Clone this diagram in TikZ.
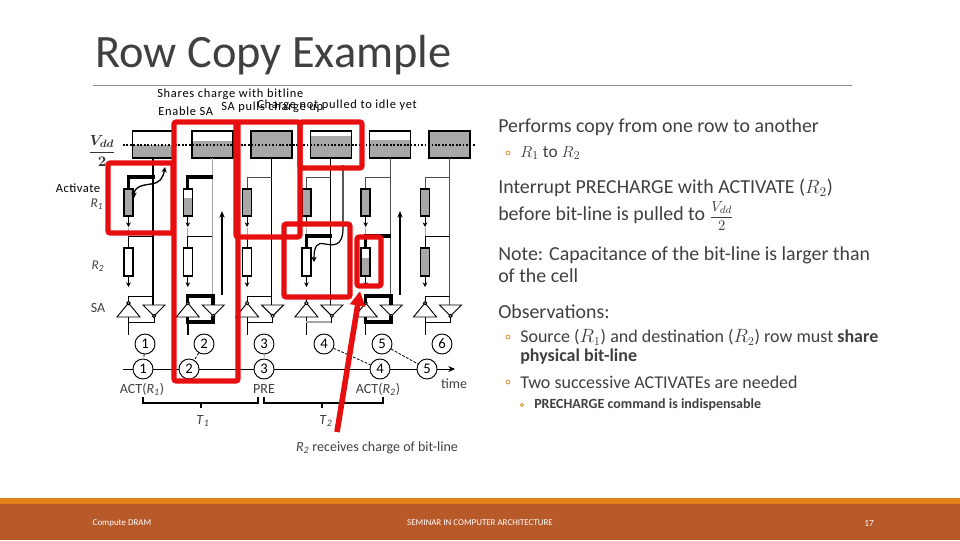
\documentclass[tikz,border=0pt]{standalone}
\usepackage{amsmath, amssymb}
\usepackage{fontspec}
\usepackage{xcolor}
\usepackage{tikz}
\usetikzlibrary{positioning, arrows.meta, calc}
\setmainfont{Carlito}
\definecolor{cMuted}  {HTML}{A6A6A6}
\definecolor{cFill}   {HTML}{A8A8A8}
\definecolor{cRed}    {HTML}{E60E0E}
\definecolor{cBody}   {HTML}{404040}
\definecolor{cOrange} {HTML}{E2801A}
\definecolor{cBrown}  {HTML}{B8592A}
\definecolor{cRule}   {HTML}{8C8C8C}
\newcommand{\figR}[1]{\textit{R}\textsubscript{\textit{#1}}}
\tikzset{
  cellbox/.style={draw=black, line width=1.1pt},
  wire/.style={draw=black, line width=0.7pt},
  boldwire/.style={draw=black, line width=2.4pt},
  redbox/.style={draw=cRed, line width=3.8pt, rounded corners=1.5pt},
  stepcircle/.style={circle, draw=black, fill=white, line width=0.7pt, minimum size=15pt, inner sep=0pt, font=\fontsize{11}{12}\selectfont},
  dashwire/.style={draw=black, line width=0.6pt, dashed, dash pattern=on 2pt off 1.2pt},
  toplabel/.style={anchor=west, inner sep=0pt, font=\fontsize{9.3}{10}\selectfont\addfontfeatures{LetterSpace=6}},
  figlabel/.style={inner sep=0pt, text=cBody, font=\fontsize{10.5}{12}\selectfont},
  bodyl/.style={anchor=west, inner sep=0pt, text=cBody, font=\fontsize{14.9}{16}\selectfont},
  bodym/.style={anchor=west, inner sep=0pt, text=cBody, font=\fontsize{13.5}{15}\selectfont},
  bulletmark/.style={circle, draw=cOrange, line width=0.5pt, inner sep=0pt, minimum size=3pt},
  footl/.style={inner sep=0pt, text=white, font=\fontsize{6.7}{7}\selectfont},
}
\begin{document}
\begin{tikzpicture}[x=0.75pt, y=-0.75pt]
  \useasboundingbox (0, 0) rectangle (960, 540);
  \fill[white] (0, 0) rectangle (960, 540);

  % title and footer
  \node[anchor=west, inner sep=0pt, text=cBody, font=\fontsize{34.8}{38}\selectfont] (title) at (95, 55) {Row Copy Example};
  \draw[cRule, line width=0.6pt] (93, 85) -- (852, 85);
  \fill[cOrange] (0, 498) rectangle (960, 504);
  \fill[cBrown] (0, 504) rectangle (960, 540);
  \node[footl] (foota) at (122, 523) {Compute DRAM};
  \node[footl] (footb) at (480, 523) {SEMINAR IN COMPUTER ARCHITECTURE};
  \node[footl, font=\fontsize{7}{8}\selectfont] (footc) at (869, 523) {17};

  % one column of the array per entry: number, fill level, R1 level, R2 level, bit-line colour
  \foreach \n/\lvl/\rone/\rtwo/\blc in {1/145/189/276/black, 2/141/198/276/cMuted, 3/131/189/276/black,
                                        4/136/189/276/black, 5/140/189/258/black!70, 6/131/189/248/black!70} {
    \pgfmathsetmacro{\cx}{153+59.3*(\n-1)}
    \pgfmathsetmacro{\cell}{\cx-24.5}
    % sense amplifier box
    \fill[cFill] (\cx-20.5, \lvl) rectangle (\cx+20.5, 158);
    \draw[cellbox] (\cx-20.5, 131) rectangle (\cx+20.5, 158);
    \draw[\blc, line width=0.8pt] (\cx, 158) -- (\cx, 305);
    % R1
    \draw[wire, black!70] (\cell, 177) -- (\cx, 177);
    \draw[wire, black!70] (\cell, 177) -- (\cell, 189);
    \fill[cFill] (\cell-4.5, \rone) rectangle (\cell+4.5, 216);
    \draw[cellbox] (\cell-4.5, 189) rectangle (\cell+4.5, 216);
    \draw[wire, -{Stealth[length=3.5pt, width=3.5pt]}] (\cell, 216) -- (\cell, 227);
    % R2
    \draw[wire, cMuted] (\cell, 228) -- (\cell, 236);
    \draw[wire] (\cell, 236) -- (\cx, 236);
    \draw[wire] (\cell, 236) -- (\cell, 248);
    \fill[cFill] (\cell-4.5, \rtwo) rectangle (\cell+4.5, 276);
    \draw[cellbox] (\cell-4.5, 248) rectangle (\cell+4.5, 276);
    \draw[wire, -{Stealth[length=3.5pt, width=3.5pt]}] (\cell, 276) -- (\cell, 287);
    % SA
    \draw[wire] (\cell, 303) -- (\cell, 296) -- (\cx, 296);
    \draw[wire, line join=miter] (\cell, 303) -- (\cell+11.5, 317) -- (\cell-11.5, 317) -- cycle;
    \draw[wire, line join=miter] (\cx+1, 316) -- (\cx+12, 305) -- (\cx-10, 305) -- cycle;
    \draw[wire] (\cx+1, 316) -- (\cx+1, 322) -- (\cell, 322);
    \draw[wire] (\cell, 317) -- (\cell, 335);
    \draw[wire, fill=white] (\cell, 303) circle (1.6);
    \draw[wire, fill=white] (\cx+1, 316) circle (1.6);
  }

  % bold word lines and sense amps
  \draw[boldwire] (128.5, 189) -- (128.5, 177) -- (155, 177);
  \draw[boldwire] (187.8, 189) -- (187.8, 177) -- (213, 177);
  \draw[boldwire] (306.4, 248) -- (306.4, 236) -- (332, 236);
  \draw[boldwire] (365.7, 248) -- (365.7, 236) -- (391, 236);
  \draw[boldwire] (187.8, 303) -- (187.8, 296) -- (213, 296) -- (213, 305);
  \draw[boldwire] (187.8, 317) -- (187.8, 322) -- (213, 322) -- (213, 316);
  \draw[boldwire, line width=1.4pt] (187.8, 322) -- (187.8, 335);
  \draw[boldwire] (365.7, 303) -- (365.7, 296) -- (391, 296) -- (391, 305);
  \draw[boldwire] (365.7, 317) -- (365.7, 322) -- (391, 322) -- (391, 316);
  \draw[wire, cMuted, line width=1pt] (306.4, 322) -- (331, 322);

  % charge flow
  \draw[line width=1pt, {Stealth[length=4pt, width=4pt]}-{Stealth[length=4pt, width=4pt]}] (134, 198) .. controls (134, 186) and (144, 185) .. (151, 184) .. controls (160, 183) and (163, 178) .. (165, 167);
  \draw[line width=0.9pt, -{Stealth[length=4pt, width=4pt]}] (343, 165) -- (343, 228) .. controls (343, 248) and (332, 245) .. (325, 244) .. controls (317, 242) and (314, 246) .. (314, 262);
  \draw[line width=1pt, -{Stealth[length=5pt, width=4pt]}] (222, 295) -- (222, 211);
  \draw[line width=1pt, -{Stealth[length=5pt, width=4pt]}] (400, 295) -- (400, 211);

  % idle level
  \draw[line width=0.9pt, dash pattern=on 1.3pt off 1.3pt] (123, 145) -- (476, 145);

  % row labels
  \node[inner sep=0pt, text=black!80, font=\fontsize{11}{12}\selectfont] (vdd) at (102, 151) {$\boldsymbol{\dfrac{V_{dd}}{2}}$};
  \node[figlabel, font=\fontsize{10}{11}\selectfont] (rone) at (97, 204) {\figR{1}};
  \node[figlabel, font=\fontsize{10}{11}\selectfont] (rtwo) at (98, 266) {\figR{2}};
  \node[figlabel] (sa) at (98, 308) {SA};
  \node[inner sep=0pt, font=\fontsize{9.4}{10}\selectfont\addfontfeatures{LetterSpace=4}] (activate) at (78, 188) {Activate};

  % time line
  \coordinate (tstart) at (123, 369);
  \coordinate (tend) at (455, 369);
  \draw[wire, -{Stealth[length=5pt, width=4.5pt]}] (tstart) -- (tend);
  \foreach \n/\ux in {1/145, 2/204, 3/264, 4/324, 5/382, 6/442} {
    \node[stepcircle] (up\n) at (\ux, 344) {\n};
  }
  \foreach \n/\lx in {1/143, 2/189, 3/264, 4/380, 5/427} {
    \node[stepcircle] (lo\n) at (\lx, 369) {\n};
  }
  \draw[dashwire] (up1) -- (lo1);
  \draw[dashwire] (up2) -- (lo2);
  \draw[dashwire, cMuted] (up3) -- (lo3);
  \draw[dashwire] (up4) -- (lo4);
  \draw[dashwire] (up5) -- (lo5);
  \node[figlabel] (timelab) at (454, 384) {time};
  \node[figlabel] (actone) at (142, 389) {ACT(\figR{1})};
  \node[figlabel] (pre) at (264, 389) {PRE};
  \node[figlabel] (acttwo) at (378, 389) {ACT(\figR{2})};

  % braces
  \draw[wire, line width=0.9pt] (143, 397) -- (143, 403) -- (258, 403) -- (258, 397);
  \draw[wire, line width=0.9pt] (264, 397) -- (264, 403) -- (383, 403) -- (383, 397);
  \draw[wire, line width=0.9pt] (201, 403) -- (201, 408);
  \draw[wire, line width=0.9pt] (322, 403) -- (322, 408);
  \node[figlabel] (tone) at (203, 421) {\textit{T}\textsubscript{\textit{1}}};
  \node[figlabel] (ttwo) at (326, 421) {\textit{T}\textsubscript{\textit{2}}};
  \node[figlabel] (receives) at (377, 448) {\figR{2} receives charge of bit-line};

  % red highlights
  \draw[redbox] (108, 163) rectangle (173, 233);
  \draw[redbox] (174, 122) rectangle (238, 381);
  \draw[redbox] (236, 122) rectangle (300, 237);
  \draw[redbox] (300, 122) rectangle (362, 168);
  \draw[redbox] (284, 224) rectangle (350, 297);
  \draw[redbox] (357, 237) rectangle (381, 286);
  \coordinate (redtail) at (337, 432);
  \coordinate (redtip) at (360, 291);
  \draw[cRed, line width=4.2pt, -{Triangle[length=11pt, width=11pt]}] (redtail) -- (redtip);

  % texts above the figure
  \node[toplabel] (shares) at (157, 94) {Shares charge with bitline};
  \node[toplabel] (enable) at (158, 111) {Enable SA};
  \node[toplabel] (pulls) at (221, 107) {SA pulls charge up};
  \node[toplabel] (idle) at (257, 105) {Charge not pulled to idle yet};

  % right column
  \node[bodyl] (perf) at (498, 127) {Performs copy from one row to another};
  \node[bulletmark] (ba) at (508, 153) {};
  \node[bodym, font=\fontsize{13}{15}\selectfont] (rto) at (520, 153) {$R_1$ to $R_2$};
  \node[bodyl] (intr) at (498, 188) {Interrupt PRECHARGE with ACTIVATE ($R_2$)};
  \node[bodyl] (before) at (498, 216) {before bit-line is pulled to {\fontsize{11}{12}\selectfont$\dfrac{V_{dd}}{2}$}};
  \node[bodyl] (note) at (498, 255) {Note: Capacitance of the bit-line is larger than};
  \node[bodyl] (ofcell) at (498, 276) {of the cell};
  \node[bodyl] (obs) at (498, 312) {Observations:};
  \node[bulletmark] (bb) at (508, 337) {};
  \node[bodym] (source) at (520, 337) {Source ($R_1$) and destination ($R_2$) row must \textbf{share}};
  \node[bodym] (phys) at (520, 357) {\textbf{physical bit-line}};
  \node[bulletmark] (bc) at (508, 382) {};
  \node[bodym] (two) at (520, 382) {Two successive ACTIVATEs are needed};
  \node[bulletmark, minimum size=2.5pt] (bd) at (522, 405) {};
  \node[bodym, font=\fontsize{10.5}{12}\selectfont] (prech) at (534, 405) {\textbf{PRECHARGE command is indispensable}};
\end{tikzpicture}
\end{document}
